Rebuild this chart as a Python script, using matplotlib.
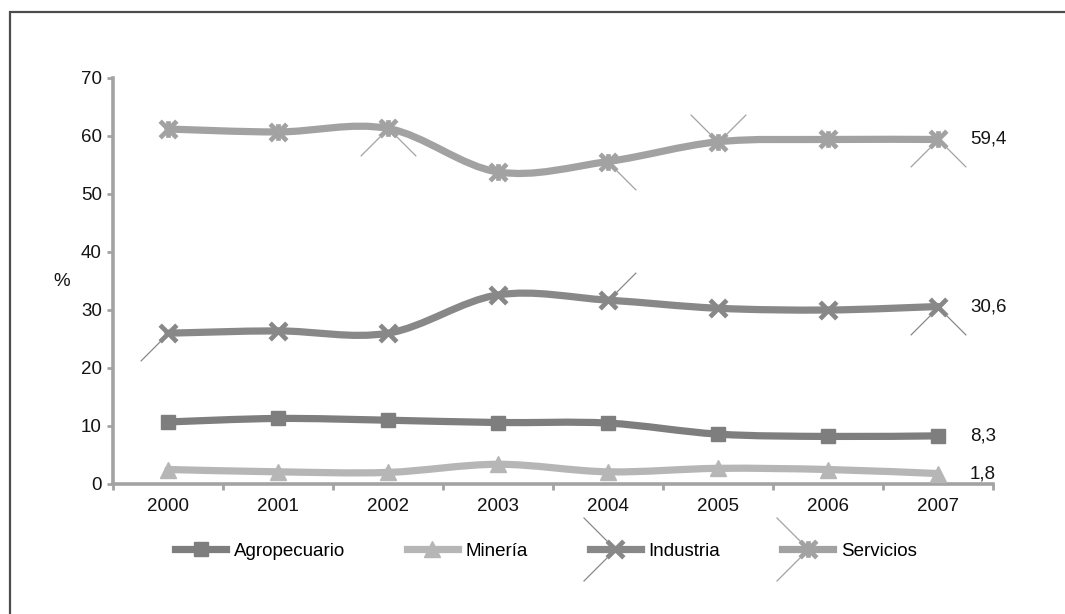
import matplotlib
matplotlib.use("Agg")
import matplotlib.pyplot as plt
from matplotlib.path import Path
from matplotlib.patches import PathPatch, Rectangle
from matplotlib.lines import Line2D
from matplotlib.legend_handler import HandlerTuple
import numpy as np

plt.rcParams['font.family'] = ['Liberation Sans', 'DejaVu Sans']

years = ["2000", "2001", "2002", "2003", "2004", "2005", "2006", "2007"]
agropecuario = [10.7, 11.3, 11.0, 10.6, 10.5, 8.6, 8.2, 8.3]
mineria = [2.5, 2.1, 2.0, 3.4, 2.1, 2.7, 2.5, 1.8]
industria = [26.0, 26.4, 26.0, 32.6, 31.7, 30.3, 30.0, 30.6]
servicios = [61.2, 60.7, 61.3, 53.8, 55.6, 59.0, 59.4, 59.4]
end_labels = ["8,3", "1,8", "30,6", "59,4"]

# thin oversized cross strokes that accompany some markers
stroke_industria = {0: "ll", 4: "ur", 7: "lv"}
stroke_servicios = {2: "lv", 4: "lr", 5: "uv", 7: "lv"}

c_agro = "#7e7e7e"
c_min = "#b6b6b6"
c_ind = "#888888"
c_serv = "#a2a2a2"
axis_c = "#a3a3a3"
txt_c = "#141414"
fs = 13.5


def smooth_path(xs, ys):
    """Cardinal (Catmull-Rom style) Bezier path through the points."""
    pts = np.column_stack([xs, ys]).astype(float)
    n = len(pts)
    verts = [pts[0]]
    codes = [Path.MOVETO]
    for i in range(n - 1):
        p0 = pts[i - 1] if i > 0 else pts[i]
        p1 = pts[i]
        p2 = pts[i + 1]
        p3 = pts[i + 2] if i + 2 < n else pts[i + 1]
        c1 = p1 + (p2 - p0) / 6.0
        c2 = p2 - (p3 - p1) / 6.0
        verts += [c1, c2, p2]
        codes += [Path.CURVE4] * 3
    return Path(verts, codes)


def seg_marker(segs):
    verts, codes = [], []
    for (a, b) in segs:
        verts += [a, b]
        codes += [Path.MOVETO, Path.LINETO]
    return Path(verts, codes)


star = seg_marker([((-1, -1), (1, 1)), ((-1, 1), (1, -1)), ((0, -1), (0, 1))])
xmark = seg_marker([((-1, -1), (1, 1)), ((-1, 1), (1, -1))])
big_shapes = {
    "ll": seg_marker([((0, 0), (-1, -1))]),
    "lr": seg_marker([((0, 0), (1, -1))]),
    "ur": seg_marker([((0, 0), (1, 1))]),
    "lv": seg_marker([((-1, -1), (0, 0)), ((0, 0), (1, -1))]),
    "uv": seg_marker([((-1, 1), (0, 0)), ((0, 0), (1, 1))]),
    "left": seg_marker([((-1, 1), (0, 0)), ((0, 0), (-1, -1))]),
}

fig = plt.figure(figsize=(10.65, 6.14), dpi=100)
fig.patches.append(Rectangle((10 / 1065, -0.5), 1.5, 0.5 + (1 - 12 / 614),
                             transform=fig.transFigure, fill=False,
                             edgecolor="#4d4d4d", linewidth=1.6, zorder=0))

ax = fig.add_axes([113 / 1065, 1 - 484 / 614, 880 / 1065, 406 / 614])
x = np.arange(len(years))

series = [
    ("Agropecuario", agropecuario, c_agro, dict(marker="s", markersize=10,
                                                markerfacecolor=c_agro, markeredgecolor=c_agro)),
    ("Minería", mineria, c_min, dict(marker="^", markersize=12,
                                     markerfacecolor=c_min, markeredgecolor=c_min)),
    ("Industria", industria, c_ind, dict(marker=xmark, markersize=12,
                                         markeredgewidth=3.4, markeredgecolor=c_ind)),
    ("Servicios", servicios, c_serv, dict(marker=star, markersize=12,
                                          markeredgewidth=3.4, markeredgecolor=c_serv)),
]

handles = []
for name, vals, col, mk in series:
    ax.add_patch(PathPatch(smooth_path(x, vals), fill=False, edgecolor=col,
                           linewidth=5.2, capstyle="round", joinstyle="round", zorder=3))
    ax.plot(x, vals, linestyle="none", zorder=4, **mk)
    handles.append(Line2D([], [], color=col, linewidth=5.2, **mk))

for strokes, vals, col in [(stroke_industria, industria, c_ind),
                           (stroke_servicios, servicios, c_serv)]:
    for i, kind in strokes.items():
        ax.plot([x[i]], [vals[i]], linestyle="none", marker=big_shapes[kind],
                markersize=40, markeredgewidth=0.9, markeredgecolor=col, zorder=5)

for (name, vals, col, mk), lab in zip(series, end_labels):
    ax.annotate(lab, (x[-1], vals[-1]), xytext=(23, 0), textcoords="offset points",
                ha="left", va="center", fontsize=fs, color=txt_c)

ax.set_xlim(-0.5, len(years) - 0.5)
ax.set_ylim(0, 70)
ax.set_yticks(np.arange(0, 71, 10))
ax.set_xticks(x)
ax.set_xticklabels(years)
ax.set_xticks(np.arange(-0.5, len(years), 1.0), minor=True)
ax.tick_params(axis="x", which="major", length=0, pad=10, labelsize=fs, labelcolor=txt_c)
ax.tick_params(axis="x", which="minor", length=4, width=2, color=axis_c, direction="out")
ax.tick_params(axis="y", length=4, width=2, color=axis_c, pad=4, labelsize=fs,
               labelcolor=txt_c)

for s in ["top", "right"]:
    ax.spines[s].set_visible(False)
for s in ["left", "bottom"]:
    ax.spines[s].set_color(axis_c)
    ax.spines[s].set_linewidth(2.6)
ax.patch.set_visible(False)

ax.text(-0.058, 35, "%", transform=ax.get_yaxis_transform(), ha="center", va="center",
        fontsize=fs, color=txt_c)

leg_handles = []
for h, (name, vals, col, mk) in zip(handles, series):
    if name in ("Industria", "Servicios"):
        big = Line2D([], [], linestyle="none", marker=big_shapes["left"], markersize=46,
                     markeredgewidth=0.9, markeredgecolor=col)
        leg_handles.append((h, big))
    else:
        leg_handles.append(h)

ax.legend(leg_handles, [s[0] for s in series], loc="center",
          bbox_to_anchor=(0.5 - 7 / 880, -0.165), ncol=4, frameon=False,
          fontsize=fs, handlelength=2.7, handletextpad=0.43, columnspacing=3.3,
          handler_map={tuple: HandlerTuple(ndivide=1, pad=0)}, numpoints=1)

fig.savefig("out.png", dpi=100, facecolor="white")
